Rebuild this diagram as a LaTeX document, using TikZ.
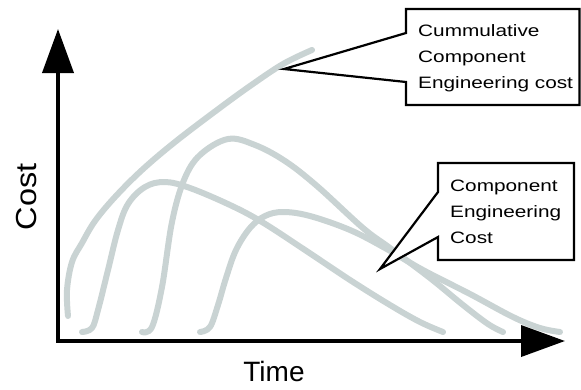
\documentclass[tikz,border=0pt]{standalone}
\usepackage{fontspec}
\setmainfont{Liberation Sans}
\newfontfamily\boxfont[FakeStretch=1.26]{Liberation Sans}
\newfontfamily\costfont[FakeStretch=1.12]{Liberation Sans}
\usetikzlibrary{arrows.meta}
\definecolor{curvegray}{RGB}{201,211,211}
\tikzset{
  costcurve/.style={draw=curvegray, line width=6pt, line cap=round, line join=round},
  axisline/.style={draw=black, line width=3.8pt, line join=miter},
  axishead/.tip={Triangle[length=44pt,width=31pt]},
  bubble/.style={draw=black, line width=2.2pt, line join=miter, fill=white},
  bubbletext/.style={inner sep=0pt, anchor=west, align=left,
    font=\boxfont\fontsize{16.5}{26}\selectfont},
  axislabel/.style={inner sep=0pt}
}
\begin{document}
\begin{tikzpicture}[x=1pt, y=-1pt]
\useasboundingbox (0,0) rectangle (581,389);

% cost curves
\draw[costcurve] plot[smooth, tension=0.6] coordinates {
  (68,316) (67,290) (72,262) (82,243) (95,221) (115,197) (142,170)
  (175,142) (217,110) (250,86) (283,64) (312,50)};
\draw[costcurve] plot[smooth, tension=0.6] coordinates {
  (82,332) (92,328) (98,310) (108,270) (118,230) (128,204) (145,187)
  (165,182) (190,188) (230,205) (262,222) (305,250) (350,280)
  (390,305) (420,322) (443,332)};
\draw[costcurve] plot[smooth, tension=0.6] coordinates {
  (142,332) (152,327) (162,287) (172,222) (184,180) (200,155)
  (228,139) (255,145) (285,161) (317,186) (363,228) (390,248)
  (430,278) (463,305) (488,324) (503,332)};
\draw[costcurve] plot[smooth, tension=0.6] coordinates {
  (200,332) (210,327) (218,305) (226,278) (236,250) (250,228)
  (265,216) (283,212) (310,216) (350,230) (385,248) (423,270)
  (470,294) (513,317) (540,328) (560,332)};

% axes
\coordinate (O) at (58,341);
\coordinate (ytip) at (58,29);
\coordinate (xtip) at (565,341);
\draw[axisline, axishead-axishead] (ytip) -- (O) -- (xtip);
\node[axislabel, rotate=90, font=\costfont\fontsize{29}{29}\selectfont] (costlabel) at (27,197) {Cost};
\node[axislabel, font=\fontsize{28}{28}\selectfont] (timelabel) at (274,371) {Time};

% callout for the cumulative curve
\coordinate (cumtip) at (284,69);
\draw[bubble] (cumtip) -- (406,33) -- (406,9) -- (579.5,9) -- (579.5,105)
  -- (406,105) -- (406,82) -- cycle;
\node[bubbletext] (cumtext) at (418,58) {Cummulative\\Component\\Engineering cost};

% callout for the component curves
\coordinate (comptip) at (380,269);
\draw[bubble] (comptip) -- (438,192) -- (438,163) -- (574,163) -- (574,260)
  -- (438,260) -- (438,237) -- cycle;
\node[bubbletext] (comptext) at (450,212) {Component\\Engineering\\Cost};
\end{tikzpicture}
\end{document}
